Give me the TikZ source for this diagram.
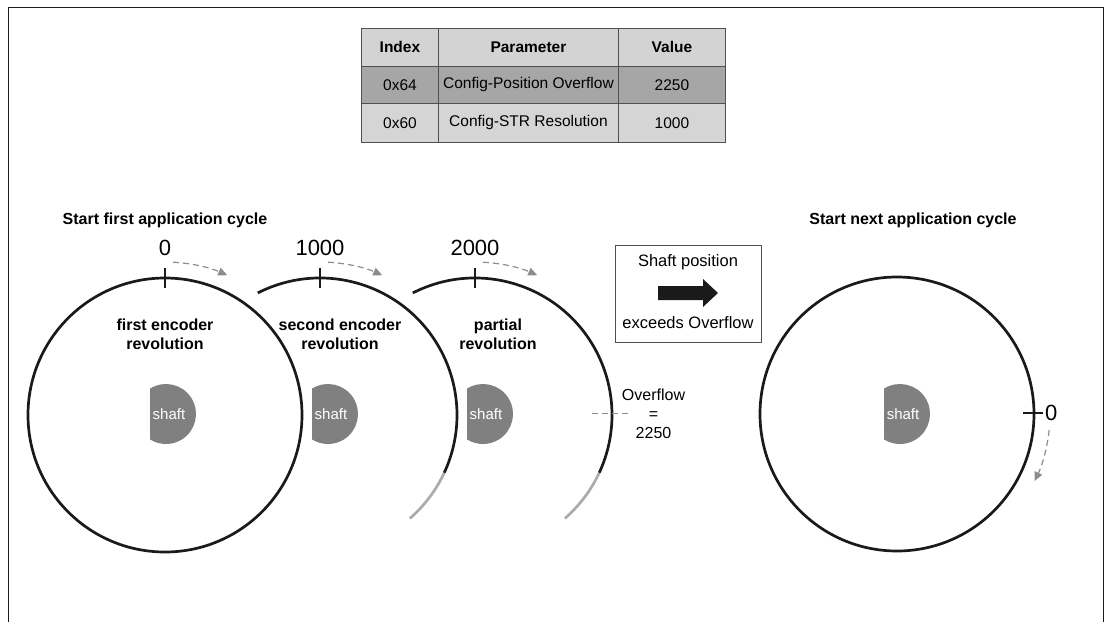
\documentclass[tikz,border=0pt]{standalone}
\usepackage{fontspec}
\setmainfont{Liberation Sans}
\usetikzlibrary{arrows.meta}

\definecolor{ink}{HTML}{1A1A1A}
\definecolor{shaftgray}{HTML}{808080}
\definecolor{hintgray}{HTML}{8C8C8C}
\definecolor{fadegray}{HTML}{ABABAB}
\definecolor{headfill}{HTML}{D3D3D3}
\definecolor{rowdark}{HTML}{A6A6A6}
\definecolor{rowlight}{HTML}{D5D5D5}
\definecolor{rulegray}{HTML}{505050}

\tikzset{
  wheel/.style={draw=ink, line width=2.7},
  fadearc/.style={draw=fadegray, line width=2.7},
  tickmark/.style={draw=ink, line width=2.7},
  turnhint/.style={draw=hintgray, line width=1.2, dash pattern=on 6 off 4,
    -{Triangle[length=9,width=8]}},
  shaftdisc/.style={fill=shaftgray},
  shafttext/.style={text=white, inner sep=0, font=\fontsize{15}{18}\selectfont},
  plain/.style={inner sep=0, align=center, font=\fontsize{16}{19}\selectfont},
  boldlbl/.style={inner sep=0, align=center, font=\bfseries\fontsize{16}{19}\selectfont},
  bignum/.style={inner sep=0, font=\fontsize{22}{26}\selectfont},
  cell/.style={draw=rulegray, line width=0.9, anchor=north west, inner sep=0,
    font=\fontsize{15.5}{18}\selectfont},
  hcell/.style={cell, fill=headfill, font=\bfseries\fontsize{15.5}{18}\selectfont}
}

\begin{document}
\begin{tikzpicture}[x=1pt, y=-1pt]
\useasboundingbox (0,0) rectangle (1111,622);

% open frame
\draw[ink, line width=1.6] (8.5,622) -- (8.5,7.5) -- (1103.5,7.5) -- (1103.5,622);

% parameter table
\node[hcell, minimum width=77,  minimum height=38] (hIdx)  at (361,28) {Index};
\node[hcell, minimum width=180, minimum height=38] (hPar)  at (438,28) {Parameter};
\node[hcell, minimum width=107, minimum height=38] (hVal)  at (618,28) {Value};
\node[cell, fill=rowdark, minimum width=77,  minimum height=37] (aIdx) at (361,66) {0x64};
\node[cell, fill=rowdark, minimum width=180, minimum height=37] (aPar) at (438,66) {Config-Position Overflow};
\node[cell, fill=rowdark, minimum width=107, minimum height=37] (aVal) at (618,66) {2250};
\node[cell, fill=rowlight, minimum width=77,  minimum height=39] (bIdx) at (361,103) {0x60};
\node[cell, fill=rowlight, minimum width=180, minimum height=39] (bPar) at (438,103) {Config-STR Resolution};
\node[cell, fill=rowlight, minimum width=107, minimum height=39] (bVal) at (618,103) {1000};

% centres of the revolutions and shafts
\coordinate (c1) at (165,415);
\coordinate (c2) at (320,415);
\coordinate (c3) at (475,415);
\coordinate (c4) at (897,414);
\coordinate (s1) at (166,414);
\coordinate (s2) at (328,414);
\coordinate (s3) at (483,414);
\coordinate (s4) at (900,414);

% headings
\node[boldlbl] (startA) at (165,220) {Start first application cycle};
\node[boldlbl] (startB) at (913,220) {Start next application cycle};

% first revolution
\draw[wheel] (c1) circle[radius=137];
\draw[tickmark] (165,268) -- (165,288);
\node[bignum] (n0) at (165,248) {0};
\draw[turnhint] (c1) ++(-87:153) arc[start angle=-87, end angle=-66, radius=153];
\node[boldlbl] (rev1) at (165,334) {first encoder\\revolution};

% second revolution
\draw[wheel] (c2) ++(-117:137) arc[start angle=-117, end angle=25, radius=137];
\draw[fadearc] (c2) ++(25:137) arc[start angle=25, end angle=49, radius=137];
\draw[tickmark] (320,268) -- (320,288);
\node[bignum] (n1000) at (320,248) {1000};
\draw[turnhint] (c2) ++(-87:153) arc[start angle=-87, end angle=-66, radius=153];
\node[boldlbl] (rev2) at (340,334) {second encoder\\revolution};

% partial revolution
\draw[wheel] (c3) ++(-117:137) arc[start angle=-117, end angle=25, radius=137];
\draw[fadearc] (c3) ++(25:137) arc[start angle=25, end angle=49, radius=137];
\draw[tickmark] (475,268) -- (475,288);
\node[bignum] (n2000) at (475,248) {2000};
\draw[turnhint] (c3) ++(-87:153) arc[start angle=-87, end angle=-66, radius=153];
\node[boldlbl] (rev3) at (498,334) {partial\\revolution};

% overflow mark
\draw[hintgray, line width=1, dash pattern=on 6 off 4] (592,413) -- (628,413);
\node[plain] (ovf) at (653.5,414) {Overflow\\=\\2250};

% transition box
\node[draw=rulegray, line width=1, minimum width=146, minimum height=97, inner sep=0] (box) at (688,293.5) {};
\node[plain, font=\fontsize{16.5}{19}\selectfont] (boxTop) at (688,262) {Shaft position};
\node[plain, font=\fontsize{16.5}{19}\selectfont] (boxBot) at (688,323) {exceeds Overflow};
\fill[ink] (658,286) -- (703,286) -- (703,279) -- (718,293) -- (703,307) -- (703,300) -- (658,300) -- cycle;

% next cycle
\draw[wheel] (c4) circle[radius=137];
\draw[tickmark] (1023,413) -- (1043,413);
\node[bignum, anchor=west] (nNext) at (1045,413) {0};
\draw[turnhint] (c4) ++(6:153) arc[start angle=6, end angle=26, radius=153];

% shafts
\foreach \s in {s1,s2,s3,s4}{
  \fill[shaftdisc] (\s) ++(-122.2:30) arc[start angle=-122.2, end angle=122.2, radius=30] -- cycle;
}
\node[shafttext] (t1) at (169,414) {shaft};
\node[shafttext] (t2) at (331,414) {shaft};
\node[shafttext] (t3) at (486,414) {shaft};
\node[shafttext] (t4) at (903,414) {shaft};
\end{tikzpicture}
\end{document}
